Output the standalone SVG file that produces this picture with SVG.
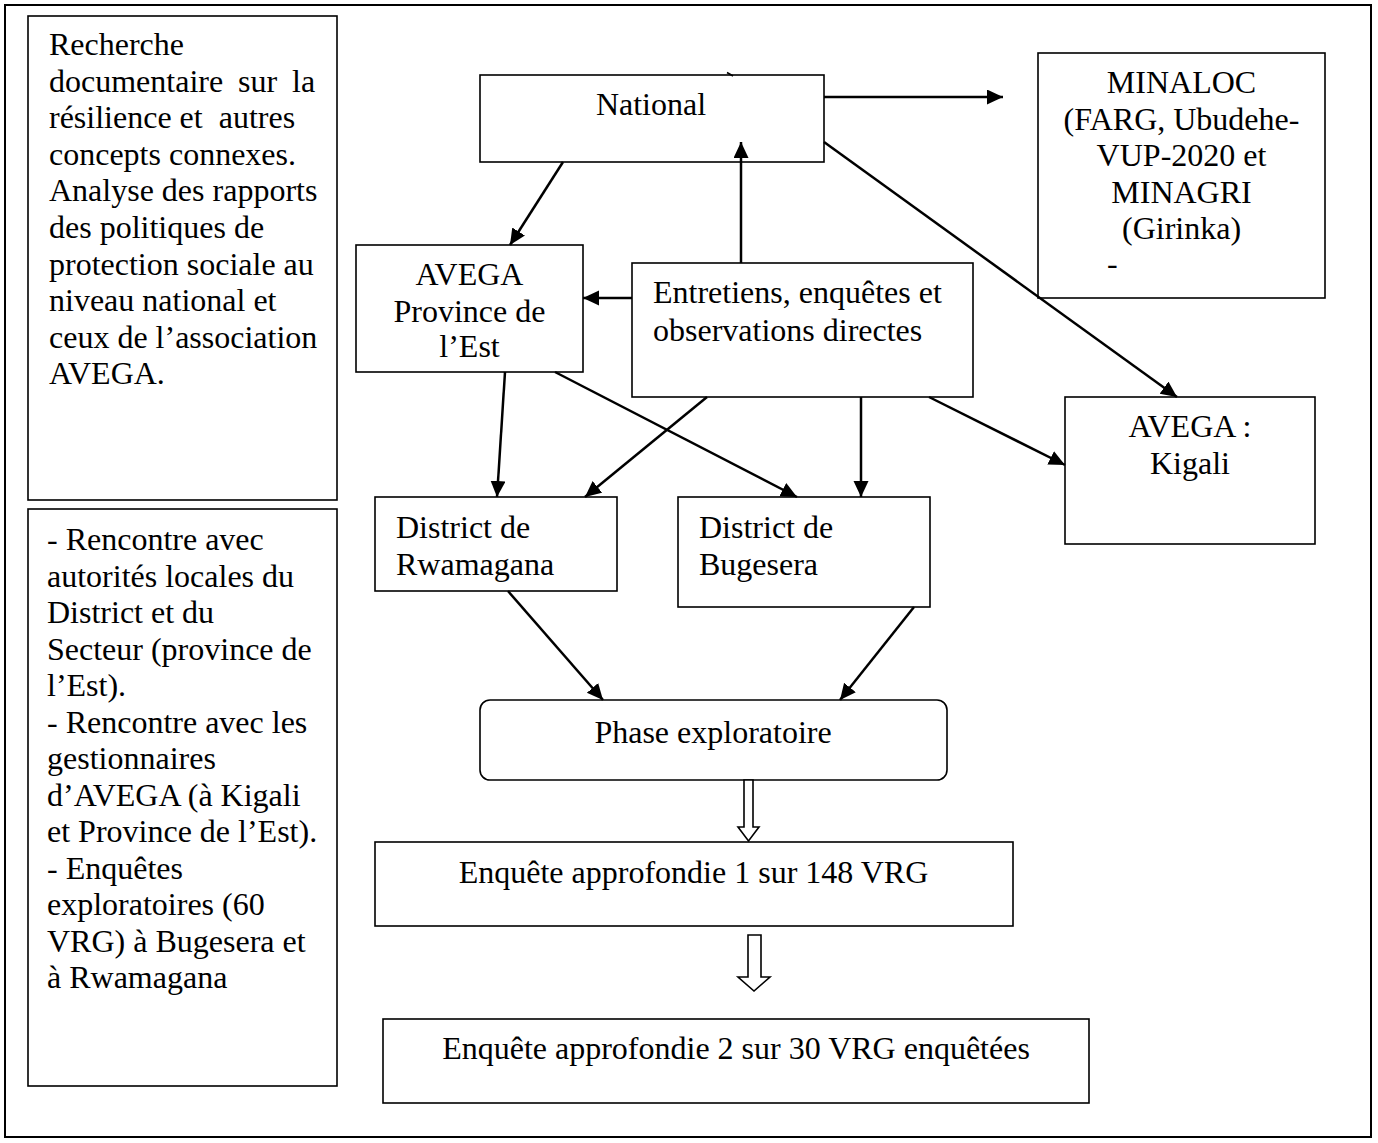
<svg xmlns="http://www.w3.org/2000/svg" width="1378" height="1143" viewBox="0 0 1378 1143">
<style>
.box{fill:#fff;stroke:#000;stroke-width:1.6}
.t{font-family:"Liberation Serif","Times New Roman",serif;font-size:32px;fill:#000}
.c{text-anchor:middle}
.ln{stroke:#000;stroke-width:2.5;fill:none;marker-end:url(#ah)}
.hollow{fill:#fff;stroke:#000;stroke-width:1.6;stroke-linejoin:miter}
</style>
<defs>
<marker id="ah" markerUnits="userSpaceOnUse" markerWidth="17" markerHeight="16" refX="16" refY="7.5" orient="auto">
<path d="M0,0 L16,7.5 L0,15 z" fill="#000"/>
</marker>
</defs>
<rect x="0" y="0" width="1378" height="1143" fill="#fff"/>
<rect x="5" y="5" width="1366" height="1132" fill="none" stroke="#000" stroke-width="2"/>

<g id="recherche">
<rect class="box" x="28" y="16" width="309" height="484"/>
<text class="t" x="49" y="55">Recherche</text>
<text class="t" y="91.6"><tspan x="49">documentaire</tspan><tspan x="238">sur</tspan><tspan x="292">la</tspan></text>
<text class="t" x="49" y="128.2">résilience et&#160; autres</text>
<text class="t" x="49" y="164.8">concepts connexes.</text>
<text class="t" x="49" y="201.4">Analyse des rapports</text>
<text class="t" x="49" y="238">des politiques de</text>
<text class="t" x="49" y="274.6">protection sociale au</text>
<text class="t" x="49" y="311.2">niveau national et</text>
<text class="t" x="49" y="347.8">ceux de l’association</text>
<text class="t" x="49" y="384.4">AVEGA.</text>
</g>

<g id="rencontre">
<rect class="box" x="28" y="509" width="309" height="577"/>
<text class="t" x="47" y="550">- Rencontre avec</text>
<text class="t" x="47" y="586.5">autorités locales du</text>
<text class="t" x="47" y="623">District et du</text>
<text class="t" x="47" y="659.5">Secteur (province de</text>
<text class="t" x="47" y="696">l’Est).</text>
<text class="t" x="47" y="732.5">- Rencontre avec les</text>
<text class="t" x="47" y="769">gestionnaires</text>
<text class="t" x="47" y="805.5">d’AVEGA (à Kigali</text>
<text class="t" x="47" y="842">et Province de l’Est).</text>
<text class="t" x="47" y="878.5">- Enquêtes</text>
<text class="t" x="47" y="915">exploratoires (60</text>
<text class="t" x="47" y="951.5">VRG) à Bugesera et</text>
<text class="t" x="47" y="988">à Rwamagana</text>
</g>

<g id="national">
<rect class="box" x="480" y="75" width="344" height="87"/>
<text class="t c" x="651" y="115">National</text>
</g>

<g id="minaloc">
<rect class="box" x="1038" y="53" width="287" height="245"/>
<text class="t c" x="1181.5" y="93">MINALOC</text>
<text class="t c" x="1181.5" y="129.6">(FARG, Ubudehe-</text>
<text class="t c" x="1181.5" y="166.2">VUP-2020 et</text>
<text class="t c" x="1181.5" y="202.8">MINAGRI</text>
<text class="t c" x="1181.5" y="239.4">(Girinka)</text>
<text class="t" x="1107" y="274">-</text>
</g>

<g id="avega-est">
<rect class="box" x="356" y="245" width="227" height="127"/>
<text class="t c" x="469.5" y="285">AVEGA</text>
<text class="t c" x="469.5" y="321.7">Province de</text>
<text class="t c" x="469.5" y="357">l’Est</text>
</g>

<g id="entretiens">
<rect class="box" x="632" y="263" width="341" height="134"/>
<text class="t" x="653" y="303">Entretiens, enquêtes et</text>
<text class="t" x="653" y="341">observations directes</text>
</g>

<g id="avega-kigali">
<rect class="box" x="1065" y="397" width="250" height="147"/>
<text class="t c" x="1190" y="437">AVEGA :</text>
<text class="t c" x="1190" y="474">Kigali</text>
</g>

<g id="rwamagana">
<rect class="box" x="375" y="497" width="242" height="94"/>
<text class="t" x="396" y="538">District de</text>
<text class="t" x="396" y="575">Rwamagana</text>
</g>

<g id="bugesera">
<rect class="box" x="678" y="497" width="252" height="110"/>
<text class="t" x="699" y="538">District de</text>
<text class="t" x="699" y="575">Bugesera</text>
</g>

<g id="phase">
<rect class="box" x="480" y="700" width="467" height="80" rx="10" ry="10"/>
<text class="t c" x="713" y="743">Phase exploratoire</text>
</g>

<g id="enquete1">
<rect class="box" x="375" y="842" width="638" height="84"/>
<text class="t c" x="693.5" y="883">Enquête approfondie 1 sur 148 VRG</text>
</g>

<g id="enquete2">
<rect class="box" x="383" y="1019" width="706" height="84"/>
<text class="t c" x="736" y="1059">Enquête approfondie 2 sur 30 VRG enquêtées</text>
</g>

<g id="connectors">
<path class="ln" d="M824,97 L1003,97"/>
<path class="ln" d="M824,142 L1177,397"/>
<path class="ln" d="M563,162 L510,245"/>
<path class="ln" d="M741,263 L741,142"/>
<path class="ln" d="M632,298 L583,298"/>
<path class="ln" d="M505,372 L497,497"/>
<path class="ln" d="M555,372 L797,497"/>
<path class="ln" d="M707,397 L585,497"/>
<path class="ln" d="M861,397 L861,497"/>
<path class="ln" d="M929,397 L1065,465"/>
<path class="ln" d="M508,591 L603,700"/>
<path class="ln" d="M914,607 L840,700"/>
<path d="M727,72.5 L733,76" stroke="#000" stroke-width="1.6"/>
<polygon class="hollow" points="744,780 753,780 753,827 759,827 748.5,841 738,827 744,827"/>
<polygon class="hollow" points="748,935 761,935 761,977 770,977 754,991 738,977 748,977"/>
</g>
</svg>
